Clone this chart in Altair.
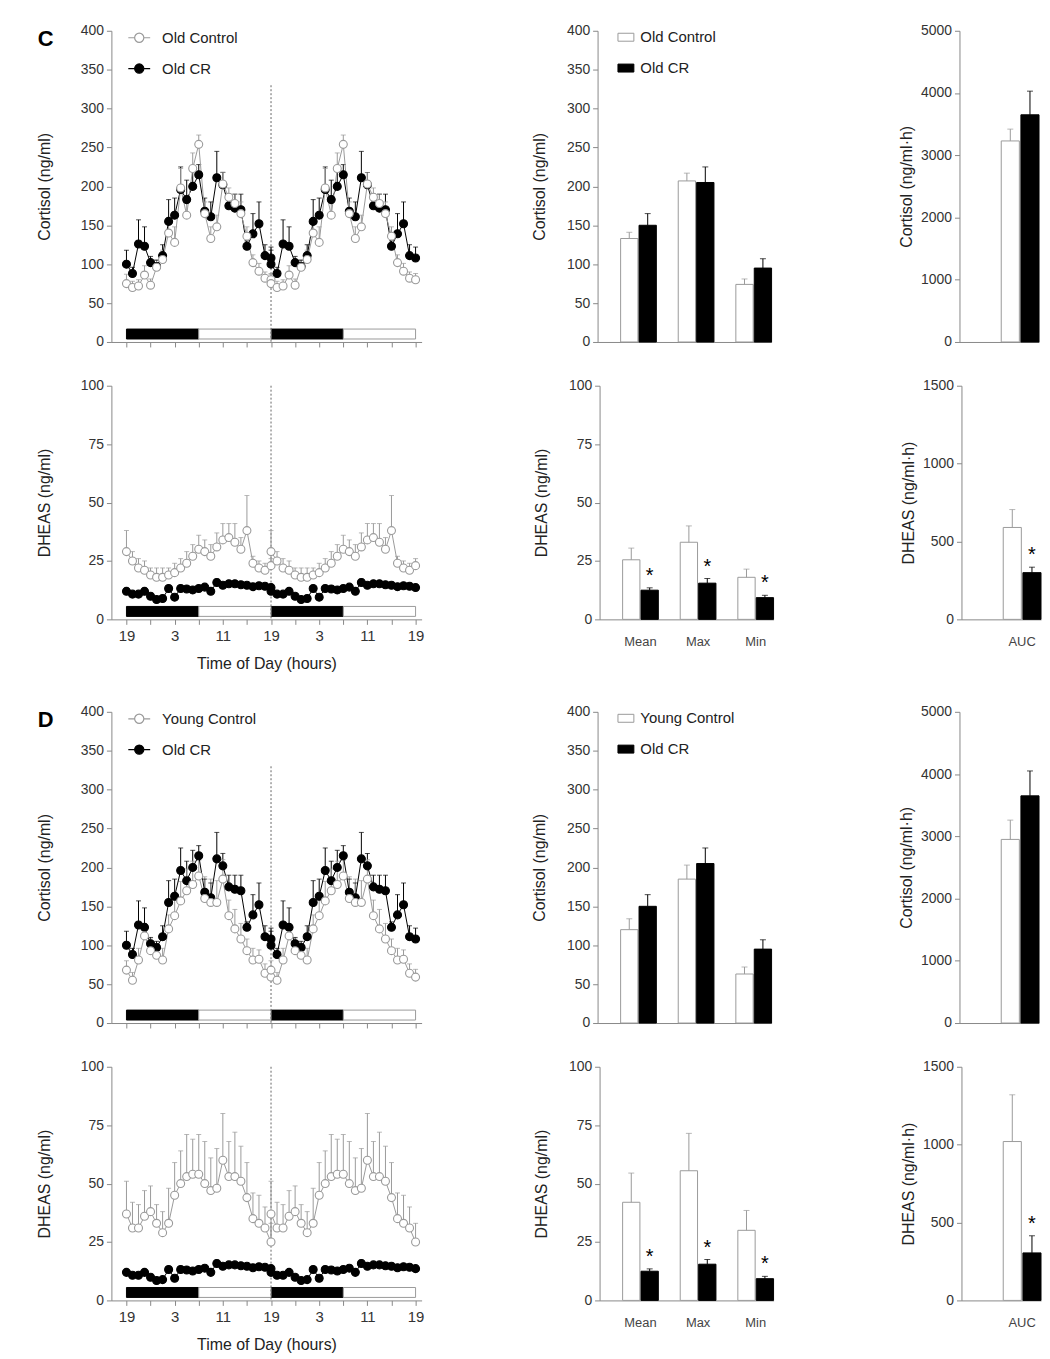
import altair as alt
import pandas as pd

FONT = "Liberation Sans"
GREY = "#9a9a9a"
INK = "#000000"

# ---------------- time-series data (hourly, hours after 19:00) ----------------
HOURS = list(range(25))
TIME_TICKS = list(range(0, 49, 4))
LD_START = [0, 12, 24, 36]
LD_END = [12, 24, 36, 48]
LD_PHASE = ["dark", "light", "dark", "light"]

OLD_CONTROL_CORT = [75, 70, 72, 86, 73, 96, 106, 140, 128, 198, 163, 223, 254, 165, 133, 148, 203, 186, 178, 165, 136, 102, 91, 82, 80]
OLD_CONTROL_CORT_SE = [12, 8, 8, 12, 8, 10, 12, 18, 20, 25, 15, 20, 12, 15, 15, 15, 15, 12, 12, 15, 12, 10, 10, 8, 8]
OLD_CR_CORT = [100, 88, 126, 123, 102, 97, 111, 155, 163, 196, 183, 200, 215, 168, 161, 211, 202, 175, 172, 170, 123, 139, 152, 111, 108]
OLD_CR_CORT_SE = [18, 8, 31, 25, 8, 8, 14, 28, 22, 29, 25, 22, 13, 17, 19, 34, 16, 15, 18, 20, 7, 26, 28, 14, 14]
YOUNG_CONTROL_CORT = [68, 55, 81, 112, 93, 87, 81, 121, 138, 157, 170, 178, 189, 160, 155, 155, 185, 138, 121, 108, 93, 81, 82, 64, 59]
YOUNG_CONTROL_CORT_SE = [12, 10, 15, 15, 15, 15, 15, 18, 20, 25, 28, 30, 20, 28, 30, 28, 25, 20, 25, 20, 15, 15, 12, 12, 10]

OLD_CONTROL_DHEAS = [29, 25, 22, 21, 19, 18, 18, 19, 20, 22, 24, 27, 30, 29, 27, 31, 34, 35, 33, 30, 38, 24, 22, 21, 23]
OLD_CONTROL_DHEAS_SE = [9, 4, 4, 4, 3, 4, 4, 3, 4, 4, 5, 5, 6, 5, 5, 6, 7, 6, 8, 5, 15, 3, 3, 3, 3]
OLD_CR_DHEAS = [12, 10.8, 10.8, 12, 9.9, 8.5, 8.9, 13.2, 9.5, 13.2, 13, 12.6, 13.2, 13.8, 12, 15.8, 14.6, 15.2, 15.2, 14.8, 14.6, 14, 14.4, 14.2, 13.6]
OLD_CR_DHEAS_SE = [1.2, 1, 1, 1.2, 1, 1, 1, 1.2, 1, 1.2, 1.2, 1.2, 1.2, 1.2, 1, 1.4, 1.2, 1.2, 1.2, 1.2, 1.2, 1.2, 1.2, 1.2, 1.2]
YOUNG_CONTROL_DHEAS = [37, 31, 31, 36, 38, 33, 29, 33, 45, 50, 53, 54, 54, 50, 47, 48, 60, 53, 53, 51, 44, 35, 33, 31, 25]
YOUNG_CONTROL_DHEAS_SE = [14, 11, 10, 11, 11, 8, 9, 15, 14, 14, 18, 15, 17, 18, 14, 17, 20, 15, 19, 15, 15, 11, 12, 9, 8]

# ---------------- summary bars ----------------
STATS = ["Mean", "Max", "Min"]
AUC = ["AUC"]
OLD_CONTROL_CORT_BAR = [133, 207, 74]
OLD_CONTROL_CORT_BAR_SE = [8, 10, 7]
OLD_CR_CORT_BAR = [150, 205, 95]
OLD_CR_CORT_BAR_SE = [15, 20, 12]
YOUNG_CONTROL_CORT_BAR = [120, 185, 63]
YOUNG_CONTROL_CORT_BAR_SE = [14, 18, 9]

OLD_CONTROL_DHEAS_BAR = [25.5, 33, 18]
OLD_CONTROL_DHEAS_BAR_SE = [5, 7, 3.5]
OLD_CR_DHEAS_BAR = [12.5, 15.5, 9.3]
OLD_CR_DHEAS_BAR_SE = [1, 2, 1]
YOUNG_CONTROL_DHEAS_BAR = [42, 55.5, 30]
YOUNG_CONTROL_DHEAS_BAR_SE = [12.5, 16, 8.5]

C_CORT_AUC_CTRL, C_CORT_AUC_CTRL_SE = [3230], [190]
C_CORT_AUC_CR, C_CORT_AUC_CR_SE = [3650], [380]
C_DHEAS_AUC_CTRL, C_DHEAS_AUC_CTRL_SE = [590], [115]
C_DHEAS_AUC_CR, C_DHEAS_AUC_CR_SE = [300], [35]
D_CORT_AUC_CTRL, D_CORT_AUC_CTRL_SE = [2950], [310]
D_CORT_AUC_CR, D_CORT_AUC_CR_SE = [3650], [400]
D_DHEAS_AUC_CTRL, D_DHEAS_AUC_CTRL_SE = [1020], [300]
D_DHEAS_AUC_CR, D_DHEAS_AUC_CR_SE = [305], [110]

LINE_SYMBOL = "M-1,0L-0.42,0M0.42,0L1,0M0.42,0A0.42,0.42,0,1,1,-0.42,0A0.42,0.42,0,1,1,0.42,0Z"
BOX_SYMBOL = "M-1,-0.5L1,-0.5L1,0.5L-1,0.5Z"


def ind(c):
    return c.resolve_scale(xOffset="independent", stroke="independent",
                           fill="independent", color="independent")


def scales(ctrl_name):
    dom = [ctrl_name, "Old CR"]
    return (alt.Scale(domain=dom, range=[GREY, INK]),
            alt.Scale(domain=dom, range=["#ffffff", INK]))


def color_enc():
    # data-driven domain (ascending: "Old CR" first) so it never merges with the legend
    return alt.Color("group:N", scale=alt.Scale(range=[INK, GREY]), legend=None)


def ts_panel(ctrl_name, ctrl, ctrl_se, cr, cr_se, ydomain, yticks, ytitle,
             height, bottom, letter, guide_top, legend):
    rows = []
    for name, vals, ses in (("Old CR", cr, cr_se), (ctrl_name, ctrl, ctrl_se)):
        for day in (0, 1):
            for h, v, s in zip(HOURS, vals, ses):
                rows.append({"group": name, "t": h + 24 * day, "seq": day * 25 + h,
                             "v": v, "hi": v + s})
    df = pd.DataFrame(rows)
    ld_df = pd.DataFrame({"t": LD_START, "t2": LD_END, "phase": LD_PHASE})
    stroke_scale, fill_scale = scales(ctrl_name)

    xscale = alt.Scale(domain=[-2.5, 49], nice=False, zero=False)
    yscale = alt.Scale(domain=ydomain, nice=False)
    xaxis = alt.Axis(values=TIME_TICKS, labels=bottom, labelOverlap=False, labelFlush=False,
                     labelExpr="datum.value % 8 == 0 ? '' + ((datum.value + 19) % 24) : ''",
                     labelFontSize=15, labelPadding=4, titlePadding=12, titleFontSize=16,
                     tickSize=5)
    yaxis = alt.Axis(values=yticks, titlePadding=28, tickSize=5, labelPadding=3)
    xtitle = "Time of Day (hours)" if bottom else None

    def X(f):
        return alt.X(f, scale=xscale, axis=xaxis, title=xtitle)

    def Y(f):
        return alt.Y(f, scale=yscale, axis=yaxis, title=ytitle)

    if legend:
        leg = alt.Legend(title=None, orient="none", legendX=16, legendY=-5,
                         symbolType=LINE_SYMBOL, symbolSize=484, symbolStrokeWidth=1.2,
                         labelFontSize=15, labelColor="#222", rowPadding=11,
                         labelOffset=11, labelFont=FONT)
    else:
        leg = None

    ld = alt.Chart(ld_df)
    dark = ld.transform_filter("datum.phase == 'dark'").mark_rect(
        fill=INK, stroke=INK, strokeWidth=1).encode(
        x=X("t:Q"), x2="t2:Q", y=alt.value(height - 13), y2=alt.value(height - 3))
    light = ld.transform_filter("datum.phase == 'light'").mark_rect(
        fill="#ffffff", stroke=GREY, strokeWidth=1).encode(
        x=X("t:Q"), x2="t2:Q", y=alt.value(height - 13), y2=alt.value(height - 3))
    vline = alt.Chart(pd.DataFrame({"t": [24], "top": [guide_top], "bot": [ydomain[0]]})).mark_rule(
        color="#666", strokeDash=[2, 2], strokeWidth=1).encode(
        x=X("t:Q"), y=Y("top:Q"), y2="bot:Q")

    base = alt.Chart(df)
    err = base.mark_rule(strokeWidth=1).encode(
        x=X("t:Q"), y=Y("v:Q"), y2="hi:Q", color=color_enc())
    caps = base.mark_tick(orient="horizontal", size=5, thickness=1).encode(
        x=X("t:Q"), y=Y("hi:Q"), color=color_enc())
    line = base.mark_line(strokeWidth=1).encode(
        x=X("t:Q"), y=Y("v:Q"), order=alt.Order("seq:Q"), color=color_enc())
    pts = base.mark_point(filled=True, size=64, strokeWidth=1.1, opacity=1).encode(
        x=X("t:Q"), y=Y("v:Q"),
        stroke=alt.Stroke("group:N", scale=stroke_scale, legend=leg),
        fill=alt.Fill("group:N", scale=fill_scale, legend=leg))

    layers = [dark, light, vline, err, caps, line, pts]
    if letter:
        lab = alt.Chart(pd.DataFrame({"label": [letter]})).mark_text(
            align="left", baseline="middle", fontSize=22, fontWeight="bold",
            font=FONT, color=INK).encode(text="label:N", x=alt.value(-74), y=alt.value(8))
        layers.append(lab)
    return alt.layer(*layers).properties(width=312, height=height)


def bar_panel(stats, ctrl_name, ctrl, ctrl_se, cr, cr_se, stars, ydomain, yticks, ytitle,
              width, height, bottom, legend, xscale, off_pad, title_pad):
    rows = []
    for name, vals, ses in ((ctrl_name, ctrl, ctrl_se), ("Old CR", cr, cr_se)):
        for i, st in enumerate(stats):
            rows.append({"stat": st, "group": name, "v": vals[i], "hi": vals[i] + ses[i],
                         "sig": bool(stars and name == "Old CR")})
    df = pd.DataFrame(rows)
    stroke_scale, fill_scale = scales(ctrl_name)

    X = alt.X("stat:N", scale=xscale,
              axis=alt.Axis(labels=bottom, ticks=False, labelAngle=0, labelPadding=16,
                            labelFontSize=13, labelColor="#444"),
              title=None)
    XO = alt.XOffset("group:N", scale=alt.Scale(domain=[ctrl_name, "Old CR"], paddingInner=off_pad))

    def Y(f):
        return alt.Y(f, scale=alt.Scale(domain=ydomain, nice=False),
                     axis=alt.Axis(values=yticks, titlePadding=title_pad, tickSize=5,
                                   labelPadding=3, format="d"),
                     title=ytitle)

    if legend:
        leg = alt.Legend(title=None, orient="none", legendX=20, legendY=-2,
                         symbolType=BOX_SYMBOL, symbolSize=256, symbolStrokeWidth=1,
                         labelFontSize=15, labelColor="#222", rowPadding=14,
                         labelOffset=6, labelFont=FONT)
    else:
        leg = None

    base = alt.Chart(df)
    bars = base.mark_bar(strokeWidth=1).encode(
        x=X, xOffset=XO, y=Y("v:Q"),
        stroke=alt.Stroke("group:N", scale=stroke_scale, legend=leg),
        fill=alt.Fill("group:N", scale=fill_scale, legend=leg))
    err = base.mark_rule(strokeWidth=1).encode(
        x=X, xOffset=XO, y=Y("v:Q"), y2="hi:Q", color=color_enc())
    caps = base.mark_tick(orient="horizontal", size=6, thickness=1).encode(
        x=X, xOffset=XO, y=Y("hi:Q"), color=color_enc())
    layers = [bars, err, caps]
    if stars:
        star = base.transform_filter("datum.sig").mark_text(
            text="*", fontSize=20, baseline="middle", dy=-12, font=FONT, color=INK).encode(
            x=X, xOffset=XO, y=Y("hi:Q"))
        layers.append(star)
    return alt.layer(*layers).properties(width=width, height=height)


MID_X = alt.Scale(domain=STATS, paddingInner=0.38, paddingOuter=0.2, align=1)
AUC_X = alt.Scale(domain=AUC, paddingInner=0, paddingOuter=0.553, align=1)
MID_W, AUC_W = 175, 80
H_CORT, H_DHEAS = 313, 235


def block(ctrl_name, cort, cort_se, dheas, dheas_se, cbar, cbar_se, dbar, dbar_se,
          cauc, cauc_se, crauc, crauc_se, dauc, dauc_se, drauc, drauc_se, letter):
    l1 = ts_panel(ctrl_name, cort, cort_se, OLD_CR_CORT, OLD_CR_CORT_SE, [0, 400],
                  list(range(0, 401, 50)), "Cortisol (ng/ml)", H_CORT, False, letter, 330, True)
    m1 = bar_panel(STATS, ctrl_name, cbar, cbar_se, OLD_CR_CORT_BAR, OLD_CR_CORT_BAR_SE, False,
                   [0, 400], list(range(0, 401, 50)), "Cortisol (ng/ml)", MID_W, H_CORT,
                   False, True, MID_X, 0.06, 19)
    r1 = bar_panel(AUC, ctrl_name, cauc, cauc_se, crauc, crauc_se, False,
                   [0, 5000], list(range(0, 5001, 1000)), "Cortisol (ng/ml·h)", AUC_W, H_CORT,
                   False, False, AUC_X, 0.08, 6)
    l2 = ts_panel(ctrl_name, dheas, dheas_se, OLD_CR_DHEAS, OLD_CR_DHEAS_SE, [0, 100],
                  [0, 25, 50, 75, 100], "DHEAS (ng/ml)", H_DHEAS, True, None, 100, False)
    m2 = bar_panel(STATS, ctrl_name, dbar, dbar_se, OLD_CR_DHEAS_BAR, OLD_CR_DHEAS_BAR_SE, True,
                   [0, 100], [0, 25, 50, 75, 100], "DHEAS (ng/ml)", MID_W, H_DHEAS,
                   True, False, MID_X, 0.06, 19)
    r2 = bar_panel(AUC, ctrl_name, dauc, dauc_se, drauc, drauc_se, True,
                   [0, 1500], [0, 500, 1000, 1500], "DHEAS (ng/ml·h)", AUC_W, H_DHEAS,
                   True, False, AUC_X, 0.08, 6)
    row1 = ind(alt.hconcat(ind(alt.hconcat(l1, m1, spacing=109)), r1, spacing=126))
    row2 = ind(alt.hconcat(ind(alt.hconcat(l2, m2, spacing=109)), r2, spacing=126))
    return ind(alt.vconcat(row1, row2, spacing=30))


blockC = block("Old Control", OLD_CONTROL_CORT, OLD_CONTROL_CORT_SE, OLD_CONTROL_DHEAS,
               OLD_CONTROL_DHEAS_SE, OLD_CONTROL_CORT_BAR, OLD_CONTROL_CORT_BAR_SE,
               OLD_CONTROL_DHEAS_BAR, OLD_CONTROL_DHEAS_BAR_SE,
               C_CORT_AUC_CTRL, C_CORT_AUC_CTRL_SE, C_CORT_AUC_CR, C_CORT_AUC_CR_SE,
               C_DHEAS_AUC_CTRL, C_DHEAS_AUC_CTRL_SE, C_DHEAS_AUC_CR, C_DHEAS_AUC_CR_SE, "C")
blockD = block("Young Control", YOUNG_CONTROL_CORT, YOUNG_CONTROL_CORT_SE, YOUNG_CONTROL_DHEAS,
               YOUNG_CONTROL_DHEAS_SE, YOUNG_CONTROL_CORT_BAR, YOUNG_CONTROL_CORT_BAR_SE,
               YOUNG_CONTROL_DHEAS_BAR, YOUNG_CONTROL_DHEAS_BAR_SE,
               D_CORT_AUC_CTRL, D_CORT_AUC_CTRL_SE, D_CORT_AUC_CR, D_CORT_AUC_CR_SE,
               D_DHEAS_AUC_CTRL, D_DHEAS_AUC_CTRL_SE, D_DHEAS_AUC_CR, D_DHEAS_AUC_CR_SE, "D")

chart = ind(alt.vconcat(blockC, blockD, spacing=34)).properties(
    padding={"left": 28, "top": 12, "right": 0, "bottom": 0}
).configure(font=FONT).configure_axis(
    domainColor="#888", tickColor="#888", labelColor="#333", titleColor="#222",
    labelFont=FONT, titleFont=FONT, labelFontSize=14, titleFontSize=16,
    titleFontWeight="normal", grid=False
).configure_view(strokeWidth=0)

chart.save("out.html", embed_options={"renderer": "svg", "actions": False})
